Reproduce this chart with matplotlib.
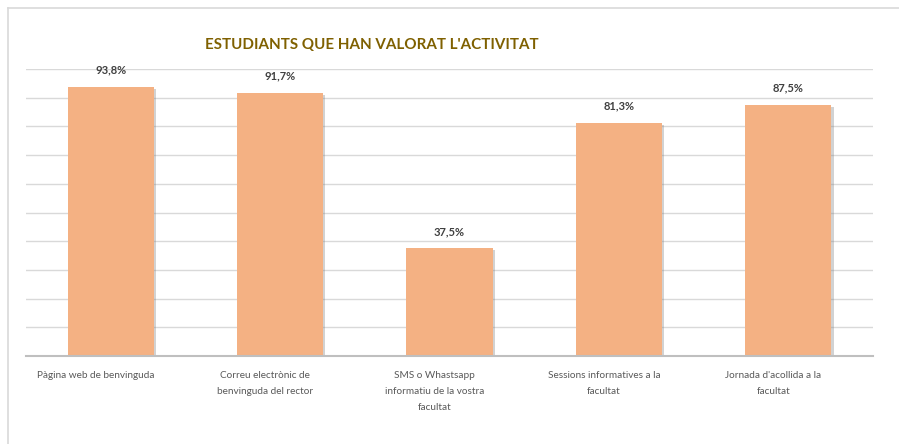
import numpy as np
import matplotlib.pyplot as plt
import matplotlib.transforms as mtransforms
import matplotlib.patheffects as pe
from matplotlib.lines import Line2D

# Data
categories = [
    "Pàgina web de benvinguda",
    "Correu electrònic de\nbenvinguda del rector",
    "SMS o Whastsapp\ninformatiu de la vostra\nfacultat",
    "Sessions informatives a la\nfacultat",
    "Jornada d'acollida a la\nfacultat",
]
values = [93.8, 91.7, 37.5, 81.3, 87.5]
value_labels = ["93,8%", "91,7%", "37,5%", "81,3%", "87,5%"]

plt.rcParams['font.family'] = ['Lato', 'DejaVu Sans']

fig = plt.figure(figsize=(8.99, 4.44), dpi=100)
W, H = 899, 444

# Outer chart border (light gray, top and left visible)
fig.add_artist(Line2D([8 / W, 1], [1 - 8 / H, 1 - 8 / H], color='#D9D9D9', lw=1.2))
fig.add_artist(Line2D([8 / W, 8 / W], [0, 1 - 8 / H], color='#D9D9D9', lw=1.2))

ax = fig.add_axes([26 / W, 88 / H, (873 - 26) / W, (356 - 69) / H])

x = np.arange(len(categories))
bars = ax.bar(x, values, width=0.51, color='#F4B183', zorder=3)
for b in bars:
    b.set_path_effects([pe.SimplePatchShadow(offset=(1.5, -1.5), shadow_rgbFace='#808080', alpha=0.35),
                        pe.Normal()])

ax.set_xlim(-0.5, len(categories) - 0.5)
ax.set_ylim(0, 100)
ax.set_yticks(np.arange(0, 101, 10))
ax.yaxis.grid(True, color='#D9D9D9', lw=1.0, zorder=0)
ax.tick_params(axis='y', left=False, labelleft=False)
ax.tick_params(axis='x', bottom=False, pad=7.5)

for s in ['top', 'right', 'left']:
    ax.spines[s].set_visible(False)
ax.spines['bottom'].set_color('#BFBFBF')
ax.spines['bottom'].set_linewidth(1.5)
ax.spines['bottom'].set_zorder(4)

ax.set_xticks(x)
ax.set_xticklabels(categories, fontsize=7.2, color='#595959', linespacing=2.0)
offset = mtransforms.ScaledTranslation(-15 / 100, 0, fig.dpi_scale_trans)
for lab in ax.get_xticklabels():
    lab.set_transform(lab.get_transform() + offset)

# Value labels above bars
for xi, v, t in zip(x, values, value_labels):
    ax.annotate(t, (xi, v), xytext=(0, 8), textcoords='offset points',
                ha='center', va='bottom', fontsize=8, fontweight='bold', color='#404040')

fig.text(205 / W, 1 - 45 / H, "ESTUDIANTS QUE HAN VALORAT L'ACTIVITAT",
         ha='left', va='center', fontsize=10.9, fontweight='bold', color='#7F6000')

fig.savefig('out.png', dpi=100)
